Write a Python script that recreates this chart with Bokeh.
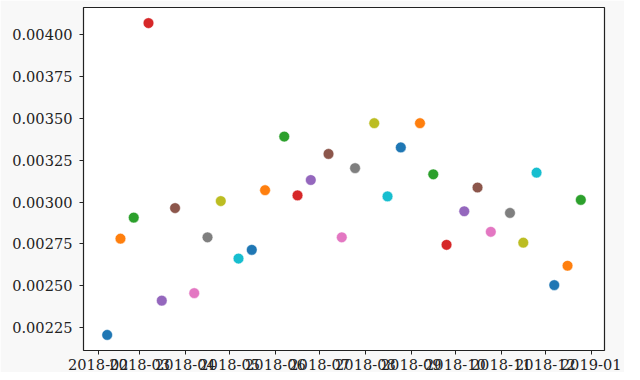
from datetime import datetime
from bokeh.plotting import figure
from bokeh.models import (ColumnDataSource, Range1d, FixedTicker, PrintfTickFormatter,
                          DatetimeTickFormatter)
from bokeh.palettes import Category10_10
from bokeh.embed import file_html
from bokeh.resources import INLINE

dates = [
    "2018-02-07", "2018-02-16", "2018-02-25",
    "2018-03-07", "2018-03-16", "2018-03-25",
    "2018-04-07", "2018-04-16", "2018-04-25",
    "2018-05-07", "2018-05-16", "2018-05-25",
    "2018-06-07", "2018-06-16", "2018-06-25",
    "2018-07-07", "2018-07-16", "2018-07-25",
    "2018-08-07", "2018-08-16", "2018-08-25",
    "2018-09-07", "2018-09-16", "2018-09-25",
    "2018-10-07", "2018-10-16", "2018-10-25",
    "2018-11-07", "2018-11-16", "2018-11-25",
    "2018-12-07", "2018-12-16", "2018-12-25",
]
values = [
    0.002205, 0.002781, 0.002907,
    0.004071, 0.002410, 0.002964,
    0.002455, 0.002789, 0.003006,
    0.002662, 0.002714, 0.003071,
    0.003392, 0.003040, 0.003132,
    0.003288, 0.002789, 0.003203,
    0.003472, 0.003034, 0.003327,
    0.003472, 0.003166, 0.002744,
    0.002945, 0.003087, 0.002822,
    0.002935, 0.002757, 0.003176,
    0.002503, 0.002619, 0.003013,
]
y_ticks = [0.00225, 0.00250, 0.00275, 0.00300, 0.00325, 0.00350, 0.00375, 0.00400]
x_tick_labels = ["2018-02", "2018-03", "2018-04", "2018-05", "2018-06", "2018-07",
                 "2018-08", "2018-09", "2018-10", "2018-11", "2018-12", "2019-01"]

xs = [datetime.strptime(d, "%Y-%m-%d") for d in dates]
colors = [Category10_10[i % 10] for i in range(len(xs))]
src = ColumnDataSource(dict(x=xs, y=values, c=colors))

xmin, xmax = min(xs), max(xs)
xpad = (xmax - xmin) * 0.05
ymin, ymax = min(values), max(values)
ypad = (ymax - ymin) * 0.05

FONT = "DejaVu Serif"
p = figure(width=624, height=372, output_backend="svg", toolbar_location=None,
           x_axis_type="datetime",
           x_range=Range1d(xmin - xpad, xmax + xpad),
           y_range=Range1d(ymin - ypad, ymax + ypad),
           min_border_left=83, min_border_right=20, min_border_top=7, min_border_bottom=20)
p.background_fill_color = "white"
p.border_fill_color = "#f8f8f8"
p.outline_line_color = "#222222"
p.outline_line_width = 1.2
p.grid.visible = False

p.scatter("x", "y", source=src, size=10.7, fill_color="c", line_color="white",
          line_width=0.5)

tick_ms = [datetime.strptime(t + "-01", "%Y-%m-%d").timestamp() * 1000 for t in x_tick_labels]
p.xaxis.ticker = FixedTicker(ticks=tick_ms)
fmt = "%Y-%m"
p.xaxis.formatter = DatetimeTickFormatter(
    microseconds=fmt, milliseconds=fmt, seconds=fmt, minsec=fmt, minutes=fmt,
    hourmin=fmt, hours=fmt, days=fmt, months=fmt, years=fmt, context=None)
p.yaxis.ticker = FixedTicker(ticks=y_ticks)
p.yaxis.formatter = PrintfTickFormatter(format="%.5f")

for ax in (p.xaxis[0], p.yaxis[0]):
    ax.axis_line_color = None
    ax.major_tick_line_color = "#222222"
    ax.major_tick_out = 4
    ax.major_tick_in = 0
    ax.minor_tick_line_color = None
    ax.major_label_text_font = FONT
    ax.major_label_text_font_size = "14.6px"
    ax.major_label_text_color = "#222222"
p.yaxis.major_label_standoff = 7
p.xaxis.major_label_standoff = 4

open("out.html", "w").write(file_html(p, INLINE))
